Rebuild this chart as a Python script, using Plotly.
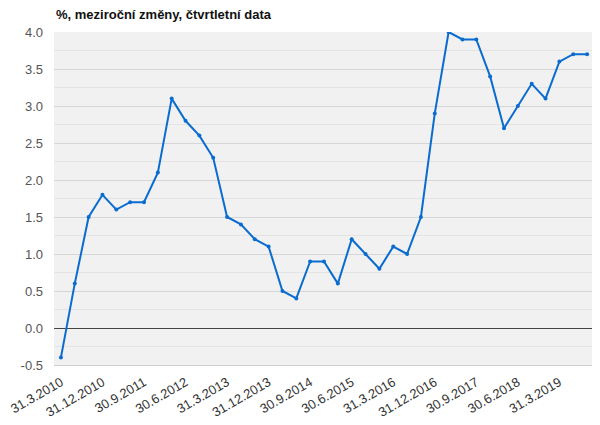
import plotly.graph_objects as go

dates = [
    "31.3.2010", "30.6.2010", "30.9.2010", "31.12.2010",
    "31.3.2011", "30.6.2011", "30.9.2011", "31.12.2011",
    "31.3.2012", "30.6.2012", "30.9.2012", "31.12.2012",
    "31.3.2013", "30.6.2013", "30.9.2013", "31.12.2013",
    "31.3.2014", "30.6.2014", "30.9.2014", "31.12.2014",
    "31.3.2015", "30.6.2015", "30.9.2015", "31.12.2015",
    "31.3.2016", "30.6.2016", "30.9.2016", "31.12.2016",
    "31.3.2017", "30.6.2017", "30.9.2017", "31.12.2017",
    "31.3.2018", "30.6.2018", "30.9.2018", "31.12.2018",
    "31.3.2019", "30.6.2019", "30.9.2019",
]
values = [
    -0.4, 0.6, 1.5, 1.8,
    1.6, 1.7, 1.7, 2.1,
    3.1, 2.8, 2.6, 2.3,
    1.5, 1.4, 1.2, 1.1,
    0.5, 0.4, 0.9, 0.9,
    0.6, 1.2, 1.0, 0.8,
    1.1, 1.0, 1.5, 2.9,
    4.0, 3.9, 3.9, 3.4,
    2.7, 3.0, 3.3, 3.1,
    3.6, 3.7, 3.7,
]
tick_labels = dates[::3]
y_ticks = [-0.5, 0.0, 0.5, 1.0, 1.5, 2.0, 2.5, 3.0, 3.5, 4.0]
title = "%, meziroční změny, čtvrtletní data"

fig = go.Figure()
fig.add_trace(go.Scatter(
    x=dates, y=values, mode="lines+markers",
    line=dict(color="#0a6ccf", width=2),
    marker=dict(color="#0a6ccf", size=4),
    hoverinfo="x+y",
))

# page body has an 8px default margin; size figure to fit the 600x425 window
W, H = 592, 417
M_L, M_R, M_T, M_B = 46, 6, 24, 60
plot_h = H - M_T - M_B

fig.update_layout(
    width=W, height=H,
    margin=dict(l=M_L, r=M_R, t=M_T, b=M_B, autoexpand=False),
    paper_bgcolor="white",
    plot_bgcolor="#f1f1f1",
    showlegend=False,
    font=dict(family="Arial, Liberation Sans, sans-serif", size=13, color="#555555"),
    xaxis=dict(
        type="category",
        range=[-0.5, len(dates) - 0.5],
        tickmode="array",
        tickvals=tick_labels,
        ticktext=tick_labels,
        tickangle=-30,
        showgrid=False,
        zeroline=False,
        showline=True,
        linecolor="#d0d0d0",
        tickfont=dict(size=13, color="#333333"),
        ticks="",
        automargin=False,
        ticklabelstandoff=4,
    ),
    yaxis=dict(
        range=[-0.5, 4.0],
        tickmode="array",
        tickvals=y_ticks,
        ticktext=[f"{v:.1f}" for v in y_ticks],
        showgrid=True,
        gridcolor="#d6d6d6",
        gridwidth=1,
        minor=dict(dtick=0.25, tick0=0, showgrid=True, gridcolor="#e4e4e4", gridwidth=1),
        zeroline=True,
        zerolinecolor="#444444",
        zerolinewidth=1,
        tickfont=dict(size=13, color="#555555"),
        ticklabelstandoff=10,
        automargin=False,
    ),
    annotations=[dict(
        text="<b>" + title + "</b>",
        x=0, xref="paper", xanchor="left",
        y=1 + (M_T - 7) / plot_h, yref="paper", yanchor="middle",
        showarrow=False,
        font=dict(size=13, color="#111111"),
    )],
)

fig.write_html("out.html")
